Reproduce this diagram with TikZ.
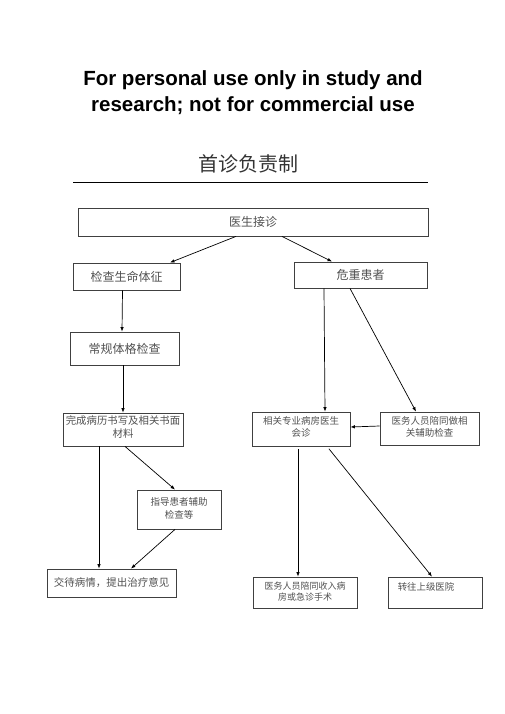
\documentclass[tikz,border=0pt]{standalone}
\usepackage{fontspec}
\setmainfont{Liberation Sans}
\newfontfamily\cjk{Noto Sans CJK SC}
\usetikzlibrary{arrows.meta}
\definecolor{txtgray}{HTML}{505050}
\definecolor{boxgray}{HTML}{404040}
\begin{document}
\begin{tikzpicture}[x=1pt,y=-1pt,
  box/.style={draw=boxgray,line width=0.8pt,rectangle,inner sep=0pt,
    text=txtgray,font=\cjk\fontsize{9.5}{12.5}\selectfont,align=center},
  big/.style={font=\cjk\fontsize{12}{14}\selectfont},
  arr/.style={draw=black,line width=0.7pt,-{Latex[length=4.5pt,width=3.5pt]}}]
\useasboundingbox (0,0) rectangle (505,714);
\node[font=\bfseries\fontsize{20.5}{26}\selectfont,align=center] (title) at (253,93)
  {For personal use only in study and\\research; not for commercial use};
\node[font=\cjk\fontsize{20}{22}\selectfont,text=black!80] (head) at (248,164) {首诊负责制};
\coordinate (rl) at (73,182);
\coordinate (rr) at (428,182);
\draw[line width=0.8pt] (rl) -- (rr);

\node[box,big,minimum width=350,minimum height=28] (top) at (253,222) {医生接诊};
\node[box,big,minimum width=107,minimum height=27] (vital) at (126.5,276.5) {检查生命体征};
\node[box,big,minimum width=133,minimum height=26] (crit) at (360.5,275) {危重患者};
\node[box,big,minimum width=109,minimum height=33] (routine) at (124.5,348.5) {常规体格检查};
\node[box,font=\cjk\fontsize{10.4}{13}\selectfont,minimum width=120,minimum height=33,text depth=6pt] (record) at (123,429.5) {完成病历书写及相关书面\\材料};
\node[box,minimum width=84,minimum height=39,text depth=3pt] (guide) at (179,509.5) {指导患者辅助\\检查等};
\node[box,font=\cjk\fontsize{10.5}{13}\selectfont,minimum width=129,minimum height=28,text depth=2pt] (tell) at (111.5,583) {交待病情，提出治疗意见};
\node[box,minimum width=98,minimum height=34,text depth=5pt] (consult) at (301,429) {相关专业病房医生\\会诊};
\node[box,minimum width=99,minimum height=33,text depth=4pt] (accomp) at (429.5,428.5) {医务人员陪同做相\\关辅助检查};
\node[box,font=\cjk\fontsize{9}{11}\selectfont,minimum width=104,minimum height=31,text depth=2pt] (admit) at (305,592.5) {医务人员陪同收入病\\房或急诊手术};
\node[box,font=\cjk\fontsize{9.4}{12}\selectfont,minimum width=94,minimum height=31,text depth=11pt] (transfer) at (435,592.5) {\hspace*{-18pt}转往上级医院};

\draw[arr] ([xshift=-17pt]top.south) -- ([xshift=43.5pt]vital.north);
\draw[arr] ([xshift=29pt]top.south) -- ([xshift=-28.5pt]crit.north);
\draw[arr] ([xshift=-4pt]vital.south) -- ([xshift=-2.5pt]routine.north);
\draw[arr] ([xshift=-1.5pt]routine.south) -- (record.north);
\draw[arr] ([xshift=2pt]record.south) -- ([xshift=-4pt]guide.north);
\draw[arr] ([xshift=-24pt]record.south) -- ([xshift=-12.5pt]tell.north);
\draw[arr] ([xshift=-4pt]guide.south) -- ([xshift=19.5pt]tell.north);
\draw[arr] ([xshift=-36.5pt]crit.south) -- ([xshift=24pt]consult.north);
\draw[arr] ([xshift=-10.5pt]crit.south) -- ([xshift=-13.5pt]accomp.north);
\draw[arr] ([yshift=2.5pt]accomp.west) -- ([yshift=2pt]consult.east);
\draw[arr,shorten <=3pt] ([xshift=-3pt]consult.south) -- ([xshift=-7pt]admit.north);
\draw[arr,shorten <=3pt] ([xshift=26pt]consult.south) -- ([xshift=-3pt]transfer.north);
\end{tikzpicture}
\end{document}
